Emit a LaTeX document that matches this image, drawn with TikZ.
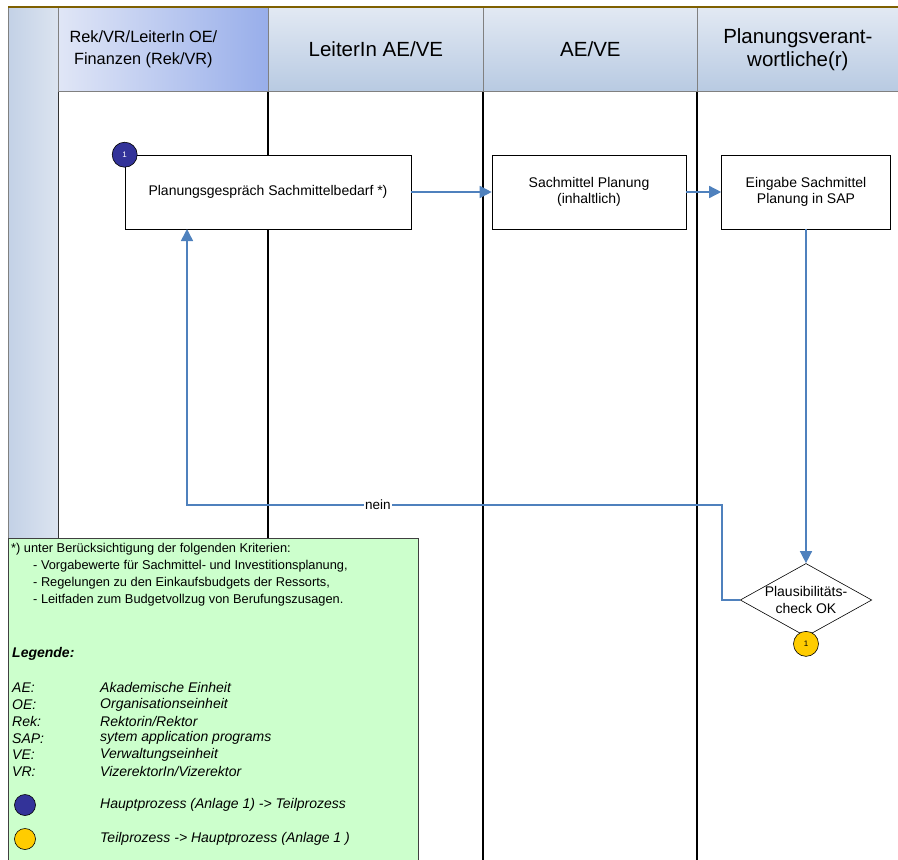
\documentclass[tikz,border=0pt]{standalone}
\usepackage{fontspec}
\setmainfont{Liberation Sans}
\usetikzlibrary{arrows.meta}
\usetikzlibrary{shapes.geometric}
\usetikzlibrary{positioning}

\definecolor{flowblue}{HTML}{4F81BD}
\definecolor{headtop}{HTML}{E2E9F3}
\definecolor{headbot}{HTML}{B8CAE2}
\definecolor{rekleft}{HTML}{E0E6F6}
\definecolor{rekright}{HTML}{98AEEA}
\definecolor{sidel}{HTML}{C3D1E6}
\definecolor{sider}{HTML}{DCE4F0}
\definecolor{topline}{HTML}{7F6000}
\definecolor{legendgreen}{HTML}{CCFFCC}
\definecolor{mainblue}{HTML}{333399}
\definecolor{subyellow}{HTML}{FFCC00}

\tikzset{
  lanehead/.style={draw=gray, line width=0.8pt, inner sep=0pt, anchor=north west,
    top color=headtop, bottom color=headbot, align=center, minimum height=84pt,
    font=\fontsize{20.5}{23}\selectfont},
  laneline/.style={draw=black, line width=1.2pt},
  task/.style={draw=black, line width=0.6pt, fill=white, align=center, inner sep=0pt,
    minimum height=74pt, font=\fontsize{14}{15.5}\selectfont},
  flow/.style={draw=flowblue, line width=1.5pt, -{Triangle[length=12pt,width=12pt]}},
  marker/.style={circle, draw=black, line width=0.6pt, inner sep=0pt, minimum size=25pt,
    font=\fontsize{8}{8}\selectfont},
  legtext/.style={anchor=west, inner sep=0pt, font=\fontsize{14}{17}\selectfont\itshape}
}

\begin{document}
\begin{tikzpicture}[x=1pt,y=-1pt]
\useasboundingbox (0,0) rectangle (898,860);
% Bahnen
\node[draw=gray, line width=0.8pt, left color=sidel, right color=sider, anchor=north west,
  minimum width=50pt, minimum height=853pt, inner sep=0pt] (seite) at (8,7) {};
\node[lanehead, minimum width=210pt, left color=rekleft, right color=rekright] (rek) at (58,7) {};
\node[align=center, inner sep=0pt, font=\fontsize{16.3}{22}\selectfont] (rektext)
  at ([xshift=-20pt]rek.center) {Rek/VR/LeiterIn OE/\\Finanzen (Rek/VR)};
\node[lanehead, minimum width=215pt] (leiter) at (268,7) {LeiterIn AE/VE};
\node[lanehead, minimum width=214pt] (aeve) at (483,7) {AE/VE};
\node[lanehead, minimum width=201pt] (verantw) at (697,7) {Planungsverant-\\wortliche(r)};
\draw[topline, line width=2pt] (seite.north west) -- (verantw.north east);
\draw[draw=black!80, line width=1pt] (rek.south west) -- (rek.south west |- 0,860);
\draw[laneline] (leiter.south west) -- (leiter.south west |- 0,860);
\draw[laneline] (aeve.south west) -- (aeve.south west |- 0,860);
\draw[laneline] (verantw.south west) -- (verantw.south west |- 0,860);

% Schritte
\node[task, minimum width=286pt] (gespraech) at (268,192) {Planungsgespräch Sachmittelbedarf *)};
\node[task, minimum width=194pt] (planung) at (589,192) {Sachmittel Planung\\(inhaltlich)};
\node[task, minimum width=169pt] (eingabe) at (806,192) {Eingabe Sachmittel\\Planung in SAP};
\node[diamond, draw=black, line width=0.6pt, fill=white, inner sep=0pt, aspect=1.8,
  minimum width=123pt, minimum height=69pt, align=center,
  font=\fontsize{14}{17}\selectfont] (check) at (806,600) {Plausibilitäts-\\check OK};
\node[marker, fill=mainblue, text=white] (start) at (gespraech.north west) {1};
\node[marker, fill=subyellow] (ende) at ([yshift=-7pt]check.south) {1};

\coordinate (back) at (722,505);
\coordinate (ziel) at (187,229);
\draw[flow] (gespraech.east) -- (planung.west);
\draw[flow] (planung.east) -- (eingabe.west);
\draw[flow] (eingabe.south) -- (check.north);
\draw[flow] (check.west) -| (back) -- node[pos=0.643, fill=white, inner sep=1pt,
  font=\fontsize{13.5}{13.5}\selectfont] (nein) {nein} (back -| ziel) -- (ziel);

% Legende
\node[draw=darkgray, line width=1.2pt, fill=legendgreen, anchor=north west, inner sep=0pt,
  minimum width=410pt, minimum height=323pt] (legende) at (8,538) {};
\node[legtext, align=left, anchor=north west, font=\fontsize{12.8}{17}\selectfont]
  (kriterien) at (11,543) {*) unter Berücksichtigung der folgenden Kriterien:\\
  \hspace*{22pt}- Vorgabewerte für Sachmittel- und Investitionsplanung,\\
  \hspace*{22pt}- Regelungen zu den Einkaufsbudgets der Ressorts,\\
  \hspace*{22pt}- Leitfaden zum Budgetvollzug von Berufungszusagen.};
\node[legtext, font=\fontsize{14}{17}\selectfont\bfseries\itshape] (legtitel) at (12,654) {Legende:};
\foreach \kurz/\lang [count=\i] in {AE:/Akademische Einheit, OE:/Organisationseinheit,
    Rek:/{Rektorin/Rektor}, SAP:/sytem application programs, VE:/Verwaltungseinheit,
    VR:/{VizerektorIn/Vizerektor}} {
  \node[legtext] (kurz\i) at (12,{671+16.8*\i}) {\kurz};
  \node[legtext] (lang\i) at (100,{671+16.8*\i}) {\lang};
}
\node[marker, fill=mainblue, minimum size=21pt] (blaukreis) at (25,805) {};
\node[legtext] (blautext) at (100,805) {Hauptprozess (Anlage 1) -> Teilprozess};
\node[marker, fill=subyellow, minimum size=21pt] (gelbkreis) at (25,839) {};
\node[legtext] (gelbtext) at (100,839) {Teilprozess -> Hauptprozess (Anlage 1 )};
\end{tikzpicture}
\end{document}
